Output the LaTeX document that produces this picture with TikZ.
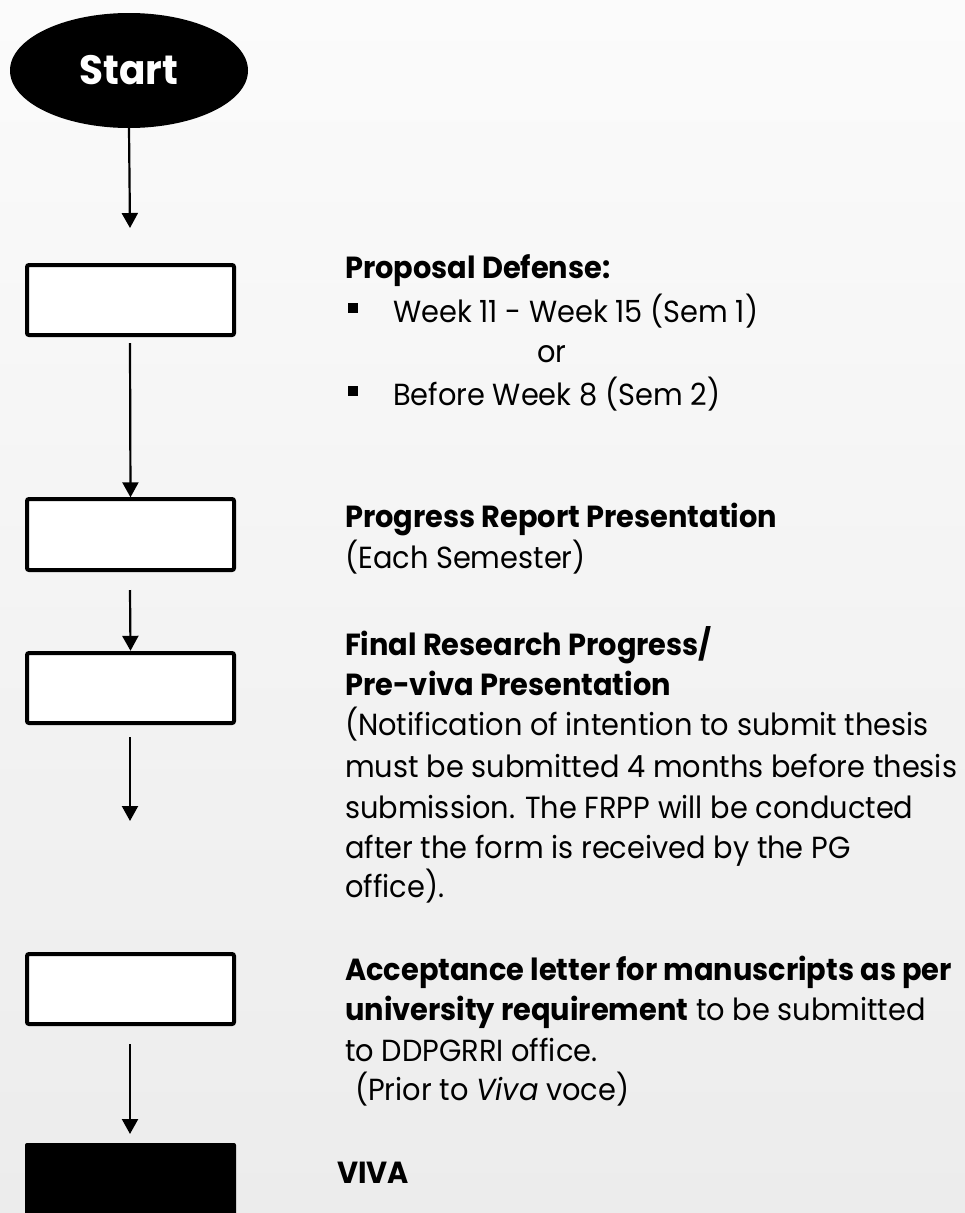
\documentclass[tikz,border=0pt]{standalone}
\usepackage{fontspec}
\setmainfont{Poppins}[FakeStretch=0.945]
\newfontfamily\startfont{Poppins}[FakeStretch=0.95]
\usetikzlibrary{arrows.meta,shapes.geometric}
\definecolor{bgtop}{HTML}{FBFBFB}
\definecolor{bgbot}{HTML}{ECECEC}
\tikzset{
  stepbox/.style={draw=black, line width=4pt, fill=white, rounded corners=2pt},
  flow/.style={line width=2.2pt, -{Triangle[width=16pt,length=15pt]}},
  txt/.style={anchor=base west, inner sep=0pt, font=\fontsize{30.5}{36}\selectfont},
  bul/.style={fill=black, inner sep=0pt, minimum size=10.5pt, rectangle}
}
\begin{document}
\begin{tikzpicture}[x=1pt,y=-1pt]
\useasboundingbox (0,0) rectangle (965,1213);
\clip (0,0) rectangle (965,1213);
\shade[top color=bgtop, bottom color=bgbot] (0,0) rectangle (965,1213);

% flow shapes
\node[ellipse, fill=black, minimum width=238pt, minimum height=115pt, inner sep=0pt,
      font=\startfont\fontsize{41}{48}\selectfont\bfseries, text=white] (start) at (129,70.5) {Start};
\coordinate (t1) at (130,228);
\draw[stepbox] (27,265) rectangle (234,335);
\node[inner sep=0pt, minimum width=211pt, minimum height=74pt] (b1) at (130.5,300) {};
\node[inner sep=0pt, minimum width=211pt, minimum height=74pt] (b2) at (130.5,534.5) {};
\node[inner sep=0pt, minimum width=211pt, minimum height=74pt] (b3) at (130.5,688) {};
\node[inner sep=0pt, minimum width=211pt, minimum height=74pt] (b4) at (130.5,989) {};
\draw[stepbox] (27,499) rectangle (234,570);
\draw[stepbox] (27,653) rectangle (234,723);
\draw[stepbox] (27,954) rectangle (234,1024);
\fill[black, rounded corners=2pt] (25,1143) rectangle (236,1240);
\node[inner sep=0pt, minimum width=211pt, minimum height=70pt] (b5) at (130.5,1178) {};

\coordinate (s2) at (130,343);
\coordinate (s3) at (130,590);
\coordinate (s4) at (130,737);
\coordinate (t4) at (130,821);
\coordinate (s5) at (130,1044);
\coordinate (t5) at (130,1134);

\draw[flow] (start.south) -- (t1);
\draw[flow] (s2) -- (b2.north);
\draw[flow] (s3) -- (b3.north);
\draw[flow] (s4) -- (t4);
\draw[flow] (s5) -- (t5);

% texts
\node[txt] (p1) at (345,278) {\bfseries Proposal Defense:};
\node[bul] (bu1) at (353,308) {};
\node[txt] (p2) at (393,322) {Week 11 - Week 15 (Sem 1)};
\node[txt] (p3) at (537,362) {or};
\node[bul] (bu2) at (353,391) {};
\node[txt] (p4) at (393,405) {Before Week 8 (Sem 2)};

\node[txt] (r1) at (345,527) {\bfseries Progress Report Presentation};
\node[txt] (r2) at (345,568) {(Each Semester)};

\node[txt] (f1) at (345,655) {\bfseries Final Research Progress/};
\node[txt] (f2) at (345,695) {\bfseries Pre-viva Presentation};
\node[txt] (f3) at (345,735) {(Notification of intention to submit thesis};
\node[txt] (f4) at (345,777) {must be submitted 4 months before thesis};
\node[txt] (f5) at (345,818) {submission. The FRPP will be conducted};
\node[txt] (f6) at (345,858) {after the form is received by the PG};
\node[txt] (f7) at (345,897) {office).};

\node[txt] (a1) at (345,980) {\bfseries Acceptance letter for manuscripts as per};
\node[txt] (a2) at (345,1020) {\textbf{university requirement} to be submitted};
\node[txt] (a3) at (345,1061) {to DDPGRRI office.};
\node[txt] (a4) at (355,1100) {(Prior to \textit{Viva} voce)};

\node[txt] (v1) at (337,1183) {\bfseries VIVA};
\end{tikzpicture}
\end{document}
